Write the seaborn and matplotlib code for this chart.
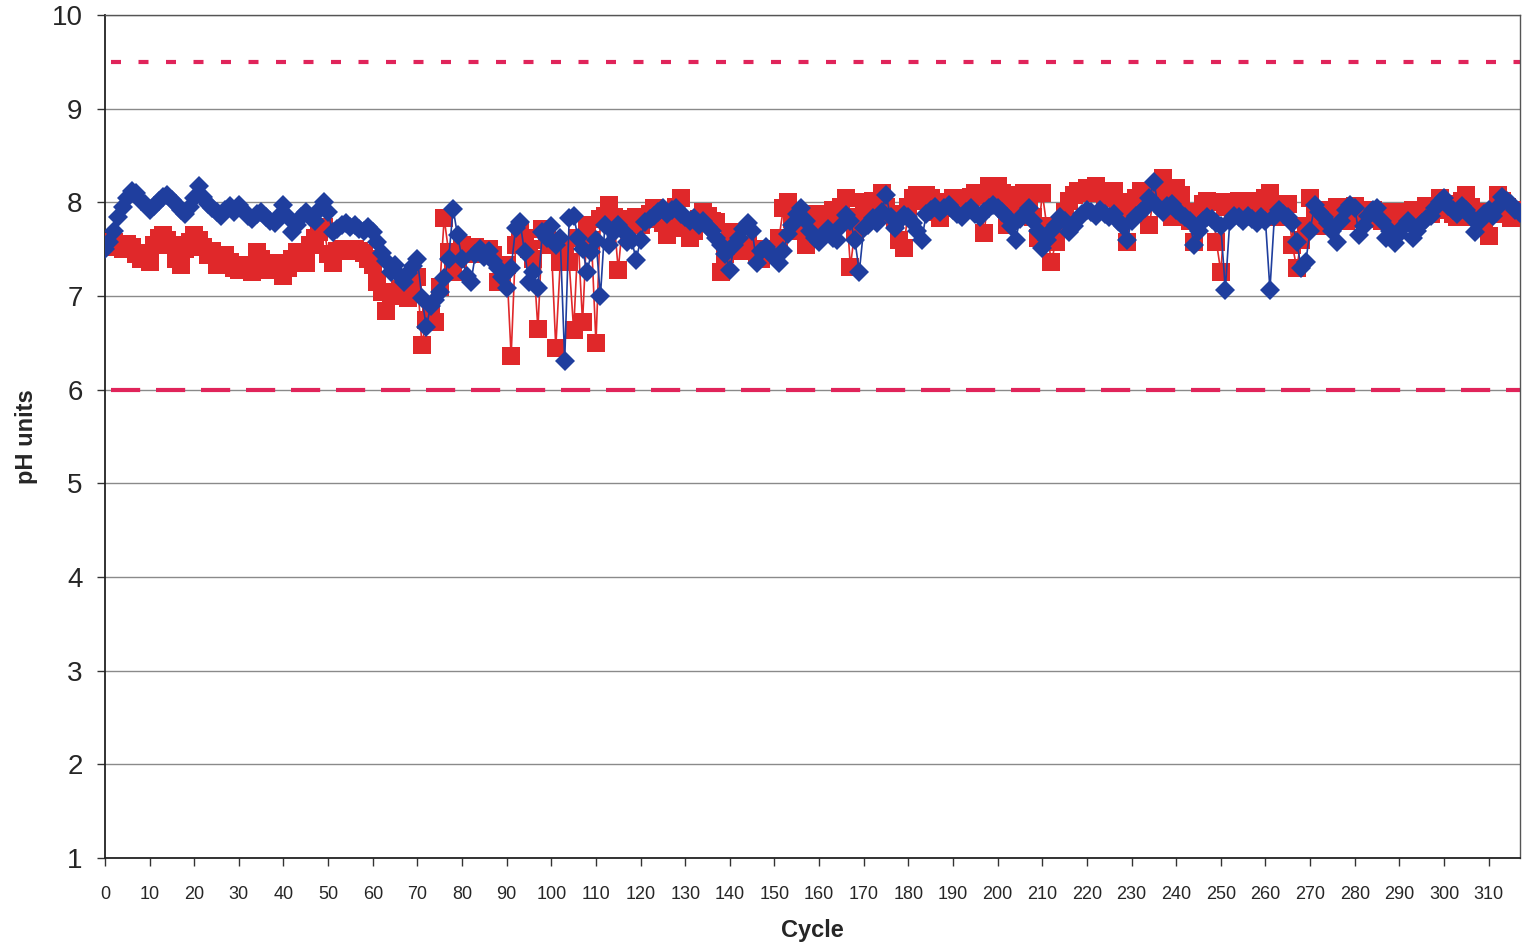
import numpy as np
import pandas as pd
import matplotlib
matplotlib.use("Agg")
import matplotlib.pyplot as plt
import seaborn as sns

# ---- data ----
blue_ph = [
    7.50, 7.58, 7.70, 7.85, 7.95, 8.05, 8.12, 8.10, 8.02, 7.98,
    7.92, 7.96, 8.02, 8.06, 8.08, 8.03, 7.98, 7.92, 7.88, 7.95,
    8.05, 8.18, 8.06, 7.98, 7.94, 7.90, 7.86, 7.92, 7.96, 7.90,
    7.97, 7.92, 7.86, 7.82, 7.88, 7.90, 7.84, 7.80, 7.78, 7.86,
    7.97, 7.85, 7.68, 7.76, 7.84, 7.90, 7.84, 7.80, 7.92, 8.00,
    7.90, 7.68, 7.72, 7.76, 7.78, 7.74, 7.76, 7.72, 7.70, 7.74,
    7.68, 7.58, 7.46, 7.38, 7.26, 7.33, 7.22, 7.15, 7.25, 7.32,
    7.40, 6.98, 6.67, 6.90, 6.96, 7.04, 7.19, 7.40, 7.93, 7.65,
    7.40, 7.22, 7.15, 7.45, 7.50, 7.42, 7.48, 7.38, 7.30, 7.20,
    7.09, 7.30, 7.73, 7.79, 7.47, 7.15, 7.26, 7.09, 7.68, 7.62,
    7.75, 7.55, 7.62, 6.31, 7.83, 7.86, 7.62, 7.50, 7.26, 7.47,
    7.60, 7.00, 7.76, 7.55, 7.68, 7.76, 7.70, 7.58, 7.60, 7.39,
    7.60, 7.79, 7.82, 7.86, 7.90, 7.94, 7.88, 7.92, 7.94, 7.88,
    7.84, 7.80, 7.83, 7.76, 7.80, 7.74, 7.70, 7.62, 7.55, 7.45,
    7.28, 7.55, 7.62, 7.72, 7.78, 7.70, 7.35, 7.48, 7.52, 7.46,
    7.42, 7.35, 7.48, 7.66, 7.76, 7.88, 7.94, 7.80, 7.70, 7.62,
    7.58, 7.66, 7.72, 7.62, 7.60, 7.75, 7.87, 7.80, 7.60, 7.26,
    7.73, 7.76, 7.83, 7.78, 7.90, 8.08, 7.85, 7.73, 7.80, 7.87,
    7.84, 7.78, 7.70, 7.60, 7.88, 7.92, 7.95, 7.90, 7.94, 7.97,
    7.92, 7.88, 7.85, 7.90, 7.94, 7.88, 7.84, 7.90, 7.94, 7.97,
    7.94, 7.90, 7.85, 7.75, 7.60, 7.82, 7.88, 7.94, 7.80, 7.70,
    7.51, 7.60, 7.70, 7.76, 7.85, 7.80, 7.68, 7.75, 7.82, 7.88,
    7.92, 7.90, 7.86, 7.92, 7.88, 7.84, 7.88, 7.80, 7.75, 7.60,
    7.80, 7.86, 7.90, 7.94, 8.05, 8.22, 7.95, 7.90, 7.96, 7.98,
    7.92, 7.88, 7.85, 7.80, 7.55, 7.70, 7.80, 7.85, 7.82, 7.78,
    7.75, 7.07, 7.80, 7.86, 7.84, 7.80, 7.86, 7.82, 7.78, 7.84,
    7.80, 7.07, 7.85, 7.92, 7.88, 7.84, 7.78, 7.58, 7.30, 7.36,
    7.70, 7.97, 7.90, 7.84, 7.78, 7.70, 7.58, 7.80, 7.92, 7.97,
    7.94, 7.65, 7.75, 7.86, 7.92, 7.94, 7.80, 7.62, 7.70, 7.57,
    7.66, 7.75, 7.80, 7.62, 7.70, 7.78, 7.82, 7.86, 7.94, 8.00,
    8.05, 7.96, 7.92, 7.88, 7.96, 7.92, 7.84, 7.68, 7.80, 7.88,
    7.92, 7.86, 7.95, 8.06, 8.02, 7.98, 7.92, 7.89,
]

red_ph = [
    7.55, 7.52, 7.58, 7.55, 7.50, 7.56, 7.52, 7.45, 7.40, 7.46,
    7.36, 7.55, 7.62, 7.65, 7.60, 7.55, 7.40, 7.33, 7.50, 7.58,
    7.65, 7.60, 7.52, 7.44, 7.48, 7.33, 7.38, 7.44, 7.36, 7.30,
    7.28, 7.33, 7.30, 7.26, 7.47, 7.40, 7.32, 7.28, 7.35, 7.30,
    7.22, 7.30, 7.40, 7.47, 7.38, 7.35, 7.55, 7.62, 7.68, 7.74,
    7.45, 7.35, 7.48, 7.50, 7.50, 7.48, 7.50, 7.48, 7.46, 7.40,
    7.33, 7.15, 7.04, 6.84, 7.00, 7.04, 7.08, 7.02, 6.98, 7.05,
    7.20, 6.48, 6.75, 6.83, 6.72, 7.10, 7.83, 7.47, 7.26, 7.40,
    7.55, 7.50, 7.45, 7.52, 7.50, 7.48, 7.50, 7.44, 7.15, 7.25,
    7.33, 6.36, 7.55, 7.68, 7.62, 7.50, 7.40, 6.65, 7.72, 7.60,
    7.55, 6.45, 7.36, 7.50, 7.36, 6.64, 7.62, 6.72, 7.76, 7.60,
    6.50, 7.82, 7.86, 7.97, 7.84, 7.28, 7.80, 7.78, 7.82, 7.85,
    7.76, 7.82, 7.88, 7.94, 7.90, 7.78, 7.65, 7.82, 7.95, 8.05,
    7.73, 7.62, 7.70, 7.82, 7.90, 7.86, 7.80, 7.79, 7.26, 7.45,
    7.68, 7.60, 7.51, 7.48, 7.55, 7.50, 7.44, 7.40, 7.46, 7.50,
    7.48, 7.62, 7.94, 8.00, 7.82, 7.70, 7.86, 7.55, 7.75, 7.88,
    7.80, 7.72, 7.85, 7.92, 7.82, 7.95, 8.05, 7.31, 7.70, 7.85,
    8.00, 7.95, 8.02, 7.98, 8.10, 7.95, 7.88, 7.82, 7.60, 7.51,
    7.95, 8.05, 8.08, 8.02, 8.08, 8.05, 7.90, 7.83, 8.00, 7.94,
    8.05, 8.00, 7.94, 8.02, 8.06, 8.10, 8.08, 7.67, 8.18, 8.12,
    8.18, 8.10, 7.76, 7.95, 8.05, 8.08, 8.10, 7.96, 7.85, 7.62,
    8.10, 7.75, 7.36, 7.58, 7.72, 7.90, 8.02, 8.08, 8.12, 8.10,
    8.15, 8.12, 8.18, 8.10, 8.05, 8.10, 8.12, 8.00, 7.85, 7.58,
    7.95, 8.05, 8.12, 8.00, 7.76, 8.10, 8.18, 8.26, 8.05, 7.85,
    8.15, 8.08, 7.90, 7.80, 7.58, 7.85, 7.98, 8.02, 8.00, 7.58,
    7.26, 7.95, 8.00, 7.98, 8.02, 7.95, 7.90, 7.98, 8.02, 7.88,
    8.05, 8.10, 7.90, 7.85, 7.92, 7.98, 7.55, 7.30, 7.60, 7.75,
    8.05, 7.92, 7.80, 7.75, 7.88, 7.92, 7.95, 7.85, 7.80, 7.90,
    7.96, 7.90, 7.82, 7.86, 7.92, 7.88, 7.80, 7.90, 7.88, 7.84,
    7.88, 7.90, 7.86, 7.92, 7.85, 7.90, 7.96, 7.88, 7.92, 8.05,
    7.98, 7.92, 7.88, 7.85, 8.02, 8.08, 7.95, 7.85, 7.90, 7.80,
    7.64, 7.88, 8.08, 8.02, 7.95, 7.83, 7.90, 7.92,
]

cycles = list(range(len(blue_ph)))
upper_limit = 9.5
lower_limit = 6.0
x_ticks = list(range(0, 320, 10))
y_ticks = list(range(1, 11))

df = pd.DataFrame({"Cycle": cycles, "red": red_ph, "blue": blue_ph})

# ---- style ----
sns.set_theme(style="white")
plt.rcParams["font.family"] = ["Liberation Sans", "DejaVu Sans"]

fig = plt.figure(figsize=(15.3, 9.5), dpi=100)
ax = fig.add_axes([0.0686, 0.0968, 0.9248, 0.8872])

RED = "#E0282A"
BLUE = "#1F3E9E"
LIMIT = "#E0245A"

# horizontal gridlines
for yv in y_ticks:
    ax.axhline(yv, color="#8a8a8a", linewidth=1.0, zorder=0)

# limit lines
ax.axhline(upper_limit, xmin=0.004, xmax=1.0, color=LIMIT, linewidth=3,
           linestyle=(0, (2.4, 4.2)), zorder=1)
ax.axhline(lower_limit, xmin=0.004, xmax=1.0, color=LIMIT, linewidth=3,
           linestyle=(0, (7, 3.8)), zorder=1)

sns.lineplot(data=df, x="Cycle", y="red", ax=ax, color=RED, linewidth=1.2,
             marker="s", markersize=12.5, markeredgewidth=0, estimator=None,
             sort=False, zorder=3)
sns.lineplot(data=df, x="Cycle", y="blue", ax=ax, color=BLUE, linewidth=1.2,
             marker="D", markersize=10.5, markeredgewidth=0, estimator=None,
             sort=False, zorder=4)

ax.set_xlim(0, 317)
ax.set_ylim(1, 10)
ax.set_xticks(x_ticks)
ax.set_xticklabels([str(t) for t in x_ticks], fontsize=13)
ax.set_yticks(y_ticks)
ax.set_yticklabels([str(t) for t in y_ticks], fontsize=20)

ax.tick_params(axis="x", which="both", direction="out", length=6, width=1,
               color="#333333", pad=14, bottom=True)
ax.tick_params(axis="y", which="both", direction="out", length=6, width=1,
               color="#333333", pad=10, left=True)

ax.set_xlabel("Cycle", fontsize=17, fontweight="bold", labelpad=12)
ax.set_ylabel("pH units", fontsize=17, fontweight="bold", labelpad=10)

for side in ["left", "bottom"]:
    ax.spines[side].set_color("#222222")
    ax.spines[side].set_linewidth(1.3)
for side in ["top", "right"]:
    ax.spines[side].set_visible(True)
    ax.spines[side].set_color("#555555")
    ax.spines[side].set_linewidth(1.0)

fig.savefig("out.png", dpi=100, facecolor="white")
